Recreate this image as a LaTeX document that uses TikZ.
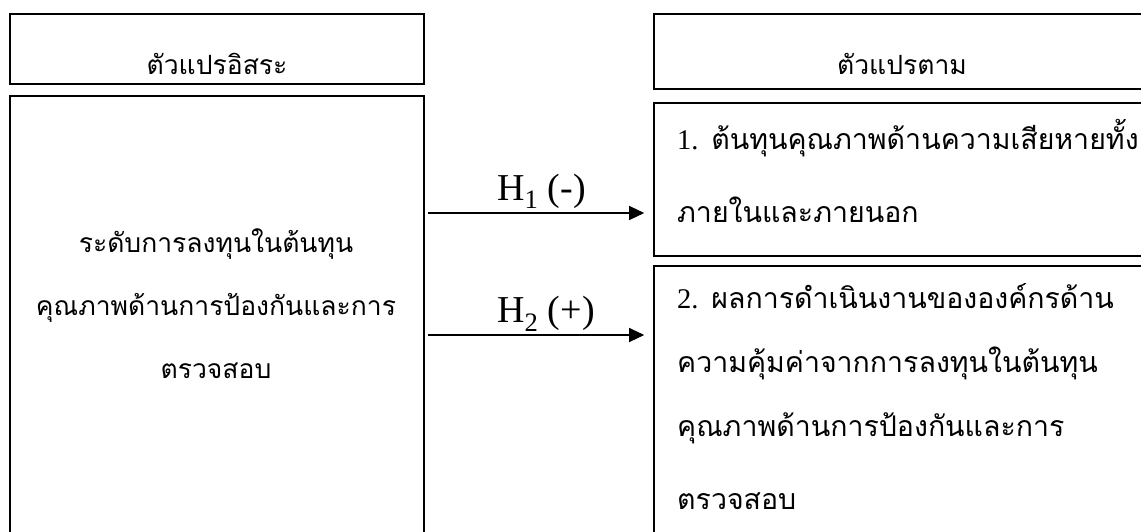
\documentclass[tikz,border=0pt]{standalone}
\usepackage{fontspec}
\setmainfont{Liberation Serif}
\newfontfamily\thaifont[Script=Thai]{Loma}
\usetikzlibrary{arrows.meta}
\begin{document}
\begin{tikzpicture}[x=1pt,y=-1pt,
  box/.style={draw, line width=1.6pt, rectangle, inner sep=0pt},
  th/.style={font=\thaifont\fontsize{26.5}{32}\selectfont, inner sep=0pt},
  thr/.style={font=\thaifont\fontsize{28.5}{34}\selectfont, inner sep=0pt, anchor=base west},
  hyp/.style={font=\fontsize{38}{44}\selectfont, inner sep=0pt},
  link/.style={line width=1.2pt, -{Triangle[length=15pt,width=14pt]}, shorten <=3pt, shorten >=9pt}]
\clip (0,0) rectangle (1141,531);
\useasboundingbox (0,0) rectangle (1141,531);
% boxes
\node[box, minimum width=414pt, minimum height=70pt] (lh) at (217,49) {};
\node[box, minimum width=414pt, minimum height=449pt] (lm) at (217,320.5) {};
\node[box, minimum width=506pt, minimum height=75pt] (rh) at (907,51.5) {};
\node[box, minimum width=506pt, minimum height=153pt] (r1) at (907,179.5) {};
\node[box, minimum width=506pt, minimum height=279pt] (r2) at (907,405.5) {};
% header texts
\node[th, anchor=base] (lht) at (217,74) {ตัวแปรอิสระ};
\node[th, anchor=base] (rht) at (902,74) {ตัวแปรตาม};
% left box text
\node[th, anchor=base] (l1) at (216,252) {ระดับการลงทุนในต้นทุน};
\node[th, anchor=base] (l2) at (216,315) {คุณภาพด้านการป้องกันและการ};
\node[th, anchor=base] (l3) at (216,378) {ตรวจสอบ};
% right box 1 text
\node[thr] (a1) at (677,149) {{\normalfont 1.} ต้นทุนคุณภาพด้านความเสียหายทั้ง};
\node[thr] (a2) at (677,222) {ภายในและภายนอก};
% right box 2 text
\node[thr] (b1) at (677,308) {{\normalfont 2.} ผลการดำเนินงานขององค์กรด้าน};
\node[thr] (b2) at (677,372) {ความคุ้มค่าจากการลงทุนในต้นทุน};
\node[thr] (b3) at (677,436) {คุณภาพด้านการป้องกันและการ};
\node[thr] (b4) at (677,509) {ตรวจสอบ};
% arrows
\coordinate (y1) at (0,213);
\coordinate (y2) at (0,335);
\draw[link] (lm.east |- y1) -- (r1.west |- y1);
\draw[link] (lm.east |- y2) -- (r2.west |- y2);
\node[hyp, anchor=base west] (h1) at (497,200) {H\textsubscript{1} (-)};
\node[hyp, anchor=base west] (h2) at (497,322) {H\textsubscript{2} (+)};
\end{tikzpicture}
\end{document}
